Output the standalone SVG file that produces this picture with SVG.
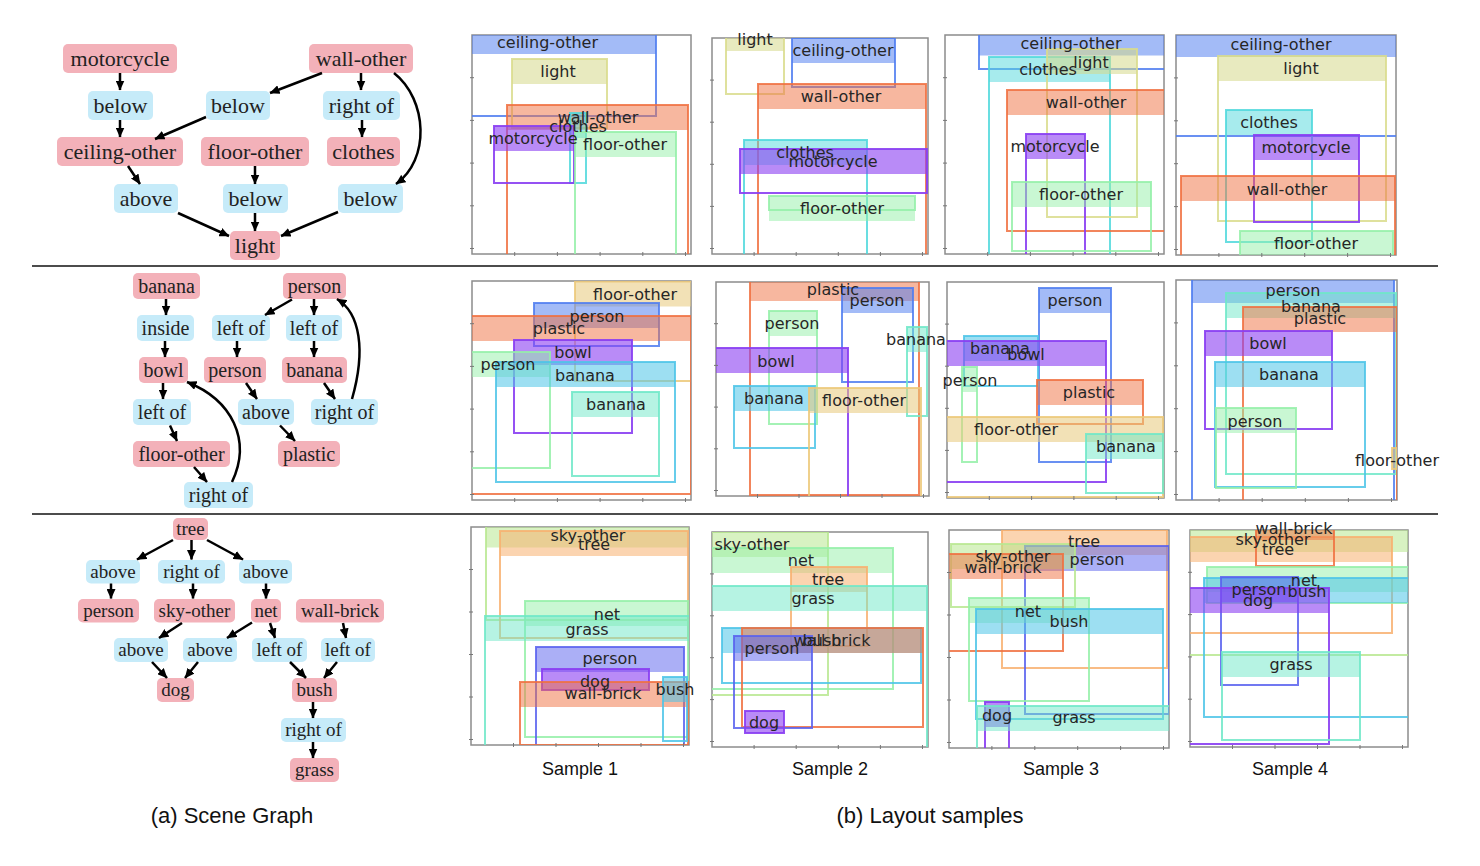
<svg xmlns="http://www.w3.org/2000/svg" width="1480" height="866" viewBox="0 0 1480 866">
<style>
.np{fill:#f3b1b9}
.nb{fill:#c6ebf9}
.nt{font-family:"Liberation Serif","Times New Roman",serif;fill:#222;text-anchor:middle}
.r1{font-size:22px}.r2{font-size:20px}.r3{font-size:19px}
.e{fill:none;stroke:#000;stroke-width:2.5;marker-end:url(#ah)}
.fr{fill:#fff;stroke:#8c8c8c;stroke-width:1.5}
.tk{fill:none;stroke:#777;stroke-width:1}
.lb{font-family:"DejaVu Sans","Liberation Sans",sans-serif;font-size:16px;fill:#262626;text-anchor:middle}
.cap{font-family:"Liberation Sans",Arial,sans-serif;fill:#111;text-anchor:middle}
.sep{stroke:#111;stroke-width:1.5}
.oB{fill:none;stroke:#4f7df0;stroke-width:2;opacity:.85}.bB{fill:#4f7df0;opacity:.52}
.oI{fill:none;stroke:#5860ee;stroke-width:2;opacity:.85}.bI{fill:#5860ee;opacity:.5}
.oP{fill:none;stroke:#8a3ef2;stroke-width:2;opacity:.9}.bP{fill:#8a3ef2;opacity:.6}
.oO{fill:none;stroke:#f07040;stroke-width:2;opacity:.85}.bO{fill:#f07040;opacity:.5}
.oT{fill:none;stroke:#f8b070;stroke-width:2;opacity:.85}.bT{fill:#f8b070;opacity:.55}
.oF{fill:none;stroke:#ecc878;stroke-width:2;opacity:.85}.bF{fill:#e8c87a;opacity:.55}
.oL{fill:none;stroke:#d9dc8c;stroke-width:2;opacity:.85}.bL{fill:#d6d98a;opacity:.55}
.oC{fill:none;stroke:#4fd8dc;stroke-width:2;opacity:.85}.bC{fill:#4fd8dc;opacity:.5}
.oS{fill:none;stroke:#4cc4e8;stroke-width:2;opacity:.85}.bS{fill:#4cc4e8;opacity:.55}
.oA{fill:none;stroke:#6ee8c8;stroke-width:2;opacity:.85}.bA{fill:#6ee8c8;opacity:.5}
.oG{fill:none;stroke:#94f0a8;stroke-width:2;opacity:.85}.bG{fill:#94f0a8;opacity:.5}
.oY{fill:none;stroke:#b8e890;stroke-width:2;opacity:.85}.bY{fill:#b8e890;opacity:.55}
</style>
<defs>
<marker id="ah" markerUnits="userSpaceOnUse" markerWidth="10" markerHeight="9" viewBox="0 0 10 9" refX="9.5" refY="4.5" orient="auto"><path d="M0,0L10,4.5L0,9z" fill="#000"/></marker>
<clipPath id="c11"><rect x="472" y="35" width="219" height="219"/></clipPath>
<clipPath id="c12"><rect x="712" y="38" width="216" height="216"/></clipPath>
<clipPath id="c13"><rect x="945" y="35" width="219" height="219"/></clipPath>
<clipPath id="c14"><rect x="1176" y="35" width="220" height="220"/></clipPath>
<clipPath id="c21"><rect x="472" y="281" width="219" height="219"/></clipPath>
<clipPath id="c22"><rect x="716" y="282" width="213" height="214"/></clipPath>
<clipPath id="c23"><rect x="947" y="282" width="217" height="216"/></clipPath>
<clipPath id="c24"><rect x="1176" y="280" width="221" height="220"/></clipPath>
<clipPath id="c31"><rect x="471" y="527" width="218" height="218"/></clipPath>
<clipPath id="c32"><rect x="712" y="532" width="216" height="215"/></clipPath>
<clipPath id="c33"><rect x="949" y="530" width="220" height="218"/></clipPath>
<clipPath id="c34"><rect x="1190" y="530" width="218" height="217"/></clipPath>
</defs>
<rect width="1480" height="866" fill="#fff"/>
<line class="sep" x1="32" y1="266" x2="1438" y2="266"/>
<line class="sep" x1="32" y1="514" x2="1438" y2="514"/>

<!-- Scene graph 1 -->
<g id="sg1">
<g id="sg1-motorcycle"><rect class="np" x="63" y="44" width="114" height="29" rx="5"/><text class="nt r1" x="120" y="65.5">motorcycle</text></g>
<g id="sg1-wall-other"><rect class="np" x="309" y="44" width="104" height="29" rx="5"/><text class="nt r1" x="361" y="65.5">wall-other</text></g>
<g id="sg1-below1"><rect class="nb" x="88" y="91" width="65" height="29" rx="5"/><text class="nt r1" x="120.5" y="112.5">below</text></g>
<g id="sg1-below2"><rect class="nb" x="206" y="91" width="64" height="29" rx="5"/><text class="nt r1" x="238" y="112.5">below</text></g>
<g id="sg1-rightof"><rect class="nb" x="323" y="91" width="77" height="29" rx="5"/><text class="nt r1" x="361.5" y="112.5">right of</text></g>
<g id="sg1-ceiling-other"><rect class="np" x="57" y="137" width="126" height="29" rx="5"/><text class="nt r1" x="120" y="158.5">ceiling-other</text></g>
<g id="sg1-floor-other"><rect class="np" x="201" y="137" width="108" height="29" rx="5"/><text class="nt r1" x="255" y="158.5">floor-other</text></g>
<g id="sg1-clothes"><rect class="np" x="327" y="137" width="73" height="29" rx="5"/><text class="nt r1" x="363.5" y="158.5">clothes</text></g>
<g id="sg1-above"><rect class="nb" x="114" y="184" width="64" height="29" rx="5"/><text class="nt r1" x="146" y="205.5">above</text></g>
<g id="sg1-below3"><rect class="nb" x="223" y="184" width="65" height="29" rx="5"/><text class="nt r1" x="255.5" y="205.5">below</text></g>
<g id="sg1-below4"><rect class="nb" x="338" y="184" width="65" height="29" rx="5"/><text class="nt r1" x="370.5" y="205.5">below</text></g>
<g id="sg1-light"><rect class="np" x="230" y="231" width="50" height="29" rx="5"/><text class="nt r1" x="255" y="252.5">light</text></g>
</g>
<!-- Scene graph 2 -->
<g id="sg2">
<g id="sg2-banana"><rect class="np" x="133" y="273" width="67" height="26" rx="5"/><text class="nt r2" x="166.5" y="292.5">banana</text></g>
<g id="sg2-person"><rect class="np" x="283" y="273" width="63" height="26" rx="5"/><text class="nt r2" x="314.5" y="292.5">person</text></g>
<g id="sg2-inside"><rect class="nb" x="137" y="315" width="57" height="26" rx="5"/><text class="nt r2" x="165.5" y="334.5">inside</text></g>
<g id="sg2-leftof1"><rect class="nb" x="212" y="315" width="58" height="26" rx="5"/><text class="nt r2" x="241" y="334.5">left of</text></g>
<g id="sg2-leftof2"><rect class="nb" x="286" y="315" width="56" height="26" rx="5"/><text class="nt r2" x="314" y="334.5">left of</text></g>
<g id="sg2-bowl"><rect class="np" x="139" y="357" width="49" height="26" rx="5"/><text class="nt r2" x="163.5" y="376.5">bowl</text></g>
<g id="sg2-person2"><rect class="np" x="204" y="357" width="62" height="26" rx="5"/><text class="nt r2" x="235" y="376.5">person</text></g>
<g id="sg2-banana2"><rect class="np" x="282" y="357" width="65" height="26" rx="5"/><text class="nt r2" x="314.5" y="376.5">banana</text></g>
<g id="sg2-leftof3"><rect class="nb" x="133" y="399" width="58" height="26" rx="5"/><text class="nt r2" x="162" y="418.5">left of</text></g>
<g id="sg2-above"><rect class="nb" x="238" y="399" width="56" height="26" rx="5"/><text class="nt r2" x="266" y="418.5">above</text></g>
<g id="sg2-rightof1"><rect class="nb" x="311" y="399" width="67" height="26" rx="5"/><text class="nt r2" x="344.5" y="418.5">right of</text></g>
<g id="sg2-floor-other"><rect class="np" x="133" y="441" width="97" height="26" rx="5"/><text class="nt r2" x="181.5" y="460.5">floor-other</text></g>
<g id="sg2-plastic"><rect class="np" x="278" y="441" width="62" height="26" rx="5"/><text class="nt r2" x="309" y="460.5">plastic</text></g>
<g id="sg2-rightof2"><rect class="nb" x="184" y="482" width="69" height="26" rx="5"/><text class="nt r2" x="218.5" y="501.5">right of</text></g>
</g>
<!-- Scene graph 3 -->
<g id="sg3">
<g id="sg3-tree"><rect class="np" x="173" y="518" width="35" height="22" rx="5"/><text class="nt r3" x="190.5" y="535">tree</text></g>
<g id="sg3-above1"><rect class="nb" x="86" y="560" width="54" height="23.5" rx="5"/><text class="nt r3" x="113" y="577.7">above</text></g>
<g id="sg3-rightof1"><rect class="nb" x="158" y="560" width="67" height="23.5" rx="5"/><text class="nt r3" x="191.5" y="577.7">right of</text></g>
<g id="sg3-above2"><rect class="nb" x="239" y="560" width="53" height="23.5" rx="5"/><text class="nt r3" x="265.5" y="577.7">above</text></g>
<g id="sg3-person"><rect class="np" x="78" y="599" width="61" height="23.5" rx="5"/><text class="nt r3" x="108.5" y="616.7">person</text></g>
<g id="sg3-sky-other"><rect class="np" x="154" y="599" width="81" height="23.5" rx="5"/><text class="nt r3" x="194.5" y="616.7">sky-other</text></g>
<g id="sg3-net"><rect class="np" x="251" y="599" width="30" height="23.5" rx="5"/><text class="nt r3" x="266" y="616.7">net</text></g>
<g id="sg3-wall-brick"><rect class="np" x="296" y="599" width="88" height="23.5" rx="5"/><text class="nt r3" x="340" y="616.7">wall-brick</text></g>
<g id="sg3-above3"><rect class="nb" x="114" y="638" width="54" height="24" rx="5"/><text class="nt r3" x="141" y="656">above</text></g>
<g id="sg3-above4"><rect class="nb" x="183" y="638" width="54" height="24" rx="5"/><text class="nt r3" x="210" y="656">above</text></g>
<g id="sg3-leftof1"><rect class="nb" x="252" y="638" width="55" height="24" rx="5"/><text class="nt r3" x="279.5" y="656">left of</text></g>
<g id="sg3-leftof2"><rect class="nb" x="321" y="638" width="54" height="24" rx="5"/><text class="nt r3" x="348" y="656">left of</text></g>
<g id="sg3-dog"><rect class="np" x="157" y="678" width="37" height="24" rx="5"/><text class="nt r3" x="175.5" y="696">dog</text></g>
<g id="sg3-bush"><rect class="np" x="292" y="678" width="45" height="24" rx="5"/><text class="nt r3" x="314.5" y="696">bush</text></g>
<g id="sg3-rightof2"><rect class="nb" x="281" y="718" width="65" height="24" rx="5"/><text class="nt r3" x="313.5" y="736">right of</text></g>
<g id="sg3-grass"><rect class="np" x="290" y="758" width="49" height="24" rx="5"/><text class="nt r3" x="314.5" y="776">grass</text></g>
</g>

<g id="connectors">
<path class="e" d="M120,73V90"/>
<path class="e" d="M120,120V137"/>
<path class="e" d="M322,73L270,93"/>
<path class="e" d="M361,73V90"/>
<path class="e" d="M394,73C428,100 430,160 396,184"/>
<path class="e" d="M206,117L155,139"/>
<path class="e" d="M362,120V137"/>
<path class="e" d="M128,166L140,184"/>
<path class="e" d="M255,166V184"/>
<path class="e" d="M178,213L229,236"/>
<path class="e" d="M255,213V231"/>
<path class="e" d="M338,212L281,236"/>

<path class="e" d="M166,299V315"/>
<path class="e" d="M165,341V357"/>
<path class="e" d="M163,383V399"/>
<path class="e" d="M170,425.5L177,441"/>
<path class="e" d="M194,467L207,482"/>
<path class="e" d="M232,482C252,440 232,400 187,382"/>
<path class="e" d="M292,299.5L265,315"/>
<path class="e" d="M314,299V315"/>
<path class="e" d="M237,341V357"/>
<path class="e" d="M314,341V357"/>
<path class="e" d="M246,383L257,399"/>
<path class="e" d="M324,383L335,399"/>
<path class="e" d="M280,425.5L295,441"/>
<path class="e" d="M352,399C366,350 360,313 337,299"/>

<path class="e" d="M173,540L137,559.5"/>
<path class="e" d="M191.5,540V559.5"/>
<path class="e" d="M207,540L243,559.5"/>
<path class="e" d="M111,583.5V598.5"/>
<path class="e" d="M193,583.5V598.5"/>
<path class="e" d="M266,583.5V598.5"/>
<path class="e" d="M182,623L159,638"/>
<path class="e" d="M252,622.5L227,638"/>
<path class="e" d="M270,623L275,638"/>
<path class="e" d="M343,623L346,638"/>
<path class="e" d="M152,662L167,678"/>
<path class="e" d="M198,662L185,678"/>
<path class="e" d="M290,662L306,678"/>
<path class="e" d="M337,662L324,678"/>
<path class="e" d="M313,702V718"/>
<path class="e" d="M313,742V758"/>
</g>

<!-- Row 1 layouts -->
<g id="r1p1">
<rect class="fr" x="472" y="35" width="219" height="219"/>
<g clip-path="url(#c11)">
<rect class="bB" x="462" y="29" width="194" height="25"/><rect class="oB" x="462" y="29" width="194" height="87"/>
<rect class="bL" x="512" y="59" width="95" height="25"/><rect class="oL" x="512" y="59" width="95" height="69"/>
<rect class="bO" x="507" y="105" width="181" height="25"/><rect class="oO" x="507" y="105" width="181" height="157"/>
<rect class="bC" x="570" y="113" width="16" height="25"/><rect class="oC" x="570" y="113" width="16" height="70"/>
<rect class="bP" x="494" y="126" width="80" height="25"/><rect class="oP" x="494" y="126" width="80" height="57"/>
<rect class="bG" x="575" y="132" width="101" height="25"/><rect class="oG" x="575" y="132" width="101" height="130"/>
</g>
<path class="tk" d="M470,77.7h4m-4,42.7h4m-4,42.7h4m-4,42.7h4m-4,42.7h4M514.7,252v4m42.7,-4v4m42.7,-4v4m42.7,-4v4m42.7,-4v4"/>
<text class="lb" x="547.5" y="47.5">ceiling-other</text>
<text class="lb" x="558" y="77">light</text>
<text class="lb" x="598" y="123">wall-other</text>
<text class="lb" x="578" y="132">clothes</text>
<text class="lb" x="533" y="144">motorcycle</text>
<text class="lb" x="625" y="150">floor-other</text>
</g>
<g id="r1p2">
<rect class="fr" x="712" y="38" width="216" height="216"/>
<g clip-path="url(#c12)">
<rect class="bL" x="726" y="26" width="58" height="25"/><rect class="oL" x="726" y="26" width="58" height="68"/>
<rect class="bB" x="792" y="38" width="103" height="25"/><rect class="oB" x="792" y="38" width="103" height="49"/>
<rect class="bO" x="758" y="84" width="168" height="25"/><rect class="oO" x="758" y="84" width="168" height="178"/>
<rect class="bC" x="744" y="140" width="123" height="25"/><rect class="oC" x="744" y="140" width="123" height="122"/>
<rect class="bP" x="740" y="149" width="187" height="25"/><rect class="oP" x="740" y="149" width="187" height="44"/>
<rect class="bG" x="769" y="196" width="146" height="25"/><rect class="oG" x="769" y="196" width="146" height="14"/>
</g>
<path class="tk" d="M710,80.1h4m-4,42.1h4m-4,42.1h4m-4,42.1h4m-4,42.1h4M754.1,252v4m42.1,-4v4m42.1,-4v4m42.1,-4v4m42.1,-4v4"/>
<text class="lb" x="755" y="44.5">light</text>
<text class="lb" x="843" y="56">ceiling-other</text>
<text class="lb" x="841" y="102">wall-other</text>
<text class="lb" x="805" y="158">clothes</text>
<text class="lb" x="833" y="167">motorcycle</text>
<text class="lb" x="842" y="214">floor-other</text>
</g>
<g id="r1p3">
<rect class="fr" x="945" y="35" width="219" height="219"/>
<g clip-path="url(#c13)">
<rect class="bB" x="979" y="30.5" width="193" height="25"/><rect class="oB" x="979" y="30.5" width="193" height="38.5"/>
<rect class="bC" x="989" y="57" width="121" height="25"/><rect class="oC" x="989" y="57" width="121" height="205"/>
<rect class="bL" x="1047" y="49" width="90" height="25"/><rect class="oL" x="1047" y="49" width="90" height="168"/>
<rect class="bO" x="1007" y="90" width="165" height="25"/><rect class="oO" x="1007" y="90" width="165" height="141"/>
<rect class="bP" x="1026" y="134" width="59" height="25"/><rect class="oP" x="1026" y="134" width="59" height="128"/>
<rect class="bG" x="1012" y="182" width="139" height="25"/><rect class="oG" x="1012" y="182" width="139" height="69"/>
</g>
<path class="tk" d="M943,77.7h4m-4,42.7h4m-4,42.7h4m-4,42.7h4m-4,42.7h4M987.7,252v4m42.7,-4v4m42.7,-4v4m42.7,-4v4m42.7,-4v4"/>
<text class="lb" x="1071" y="49">ceiling-other</text>
<text class="lb" x="1048" y="75">clothes</text>
<text class="lb" x="1091" y="67.5">light</text>
<text class="lb" x="1086" y="108">wall-other</text>
<text class="lb" x="1055" y="152">motorcycle</text>
<text class="lb" x="1081" y="200">floor-other</text>
</g>
<g id="r1p4">
<rect class="fr" x="1176" y="35" width="220" height="220"/>
<g clip-path="url(#c14)">
<rect class="bB" x="1168" y="32" width="236" height="25"/><rect class="oB" x="1168" y="32" width="236" height="104"/>
<rect class="bL" x="1218" y="56" width="168" height="25"/><rect class="oL" x="1218" y="56" width="168" height="165"/>
<rect class="bC" x="1226" y="110" width="86" height="25"/><rect class="oC" x="1226" y="110" width="86" height="132"/>
<rect class="bP" x="1254" y="135" width="105" height="25"/><rect class="oP" x="1254" y="135" width="105" height="87"/>
<rect class="bO" x="1181" y="176" width="214" height="25"/><rect class="oO" x="1181" y="176" width="214" height="87"/>
<rect class="bG" x="1240" y="231" width="153" height="25"/><rect class="oG" x="1240" y="231" width="153" height="32"/>
</g>
<path class="tk" d="M1174,77.9h4m-4,42.9h4m-4,42.9h4m-4,42.9h4m-4,42.9h4M1218.9,253v4m42.9,-4v4m42.9,-4v4m42.9,-4v4m42.9,-4v4"/>
<text class="lb" x="1281" y="50">ceiling-other</text>
<text class="lb" x="1301" y="74">light</text>
<text class="lb" x="1269" y="128">clothes</text>
<text class="lb" x="1306" y="152.5">motorcycle</text>
<text class="lb" x="1287" y="195">wall-other</text>
<text class="lb" x="1316" y="249">floor-other</text>
</g>

<!-- Row 2 layouts -->
<g id="r2p1">
<rect class="fr" x="472" y="281" width="219" height="219"/>
<g clip-path="url(#c21)">
<rect class="bF" x="575" y="281.5" width="125" height="25"/><rect class="oF" x="575" y="281.5" width="125" height="99.5"/>
<rect class="bB" x="534" y="303" width="125" height="25"/><rect class="oB" x="534" y="303" width="125" height="43"/>
<rect class="bO" x="464" y="316" width="227" height="25"/><rect class="oO" x="464" y="316" width="227" height="178"/>
<rect class="bP" x="514" y="340" width="118" height="25"/><rect class="oP" x="514" y="340" width="118" height="93"/>
<rect class="bG" x="464" y="352" width="86" height="25"/><rect class="oG" x="464" y="352" width="86" height="116"/>
<rect class="bS" x="496" y="362" width="179" height="25"/><rect class="oS" x="496" y="362" width="179" height="120"/>
<rect class="bA" x="572" y="392" width="87" height="25"/><rect class="oA" x="572" y="392" width="87" height="84"/>
</g>
<path class="tk" d="M470,323.7h4m-4,42.7h4m-4,42.7h4m-4,42.7h4m-4,42.7h4M514.7,498v4m42.7,-4v4m42.7,-4v4m42.7,-4v4m42.7,-4v4"/>
<text class="lb" x="635" y="300">floor-other</text>
<text class="lb" x="597" y="322">person</text>
<text class="lb" x="559" y="334">plastic</text>
<text class="lb" x="573" y="358">bowl</text>
<text class="lb" x="508" y="370">person</text>
<text class="lb" x="585" y="380.5">banana</text>
<text class="lb" x="616" y="410">banana</text>
</g>
<g id="r2p2">
<rect class="fr" x="716" y="282" width="213" height="214"/>
<g clip-path="url(#c22)">
<rect class="bO" x="750" y="276" width="169" height="25"/><rect class="oO" x="750" y="276" width="169" height="219"/>
<rect class="bB" x="842" y="288" width="71" height="25"/><rect class="oB" x="842" y="288" width="71" height="94"/>
<rect class="bG" x="769" y="311" width="48" height="25"/><rect class="oG" x="769" y="311" width="48" height="113"/>
<rect class="bA" x="907" y="327" width="20" height="25"/><rect class="oA" x="907" y="327" width="20" height="89"/>
<rect class="bP" x="708" y="348" width="140" height="25"/><rect class="oP" x="708" y="348" width="140" height="157"/>
<rect class="bS" x="734" y="386" width="81" height="25"/><rect class="oS" x="734" y="386" width="81" height="62"/>
<rect class="bF" x="809" y="388" width="112" height="25"/><rect class="oF" x="809" y="388" width="112" height="117"/>
</g>
<path class="tk" d="M714,323.7h4m-4,41.7h4m-4,41.7h4m-4,41.7h4m-4,41.7h4M757.5,494v4m41.5,-4v4m41.5,-4v4m41.5,-4v4m41.5,-4v4"/>
<text class="lb" x="833" y="294.5">plastic</text>
<text class="lb" x="877" y="306">person</text>
<text class="lb" x="792" y="329">person</text>
<text class="lb" x="916" y="345">banana</text>
<text class="lb" x="776" y="367">bowl</text>
<text class="lb" x="774" y="403.5">banana</text>
<text class="lb" x="864" y="405.5">floor-other</text>
</g>
<g id="r2p3">
<rect class="fr" x="947" y="282" width="217" height="216"/>
<g clip-path="url(#c23)">
<rect class="bB" x="1039" y="288" width="72" height="25"/><rect class="oB" x="1039" y="288" width="72" height="174"/>
<rect class="bS" x="964" y="336" width="74" height="25"/><rect class="oS" x="964" y="336" width="74" height="50"/>
<rect class="bP" x="940" y="341" width="166" height="25"/><rect class="oP" x="940" y="341" width="166" height="141"/>
<rect class="bG" x="962" y="367" width="15" height="25"/><rect class="oG" x="962" y="367" width="15" height="95"/>
<rect class="bO" x="1037" y="380" width="106" height="25"/><rect class="oO" x="1037" y="380" width="106" height="44"/>
<rect class="bF" x="940" y="417" width="223" height="25"/><rect class="oF" x="940" y="417" width="223" height="80"/>
<rect class="bA" x="1086" y="434" width="77" height="25"/><rect class="oA" x="1086" y="434" width="77" height="59"/>
</g>
<path class="tk" d="M945,324.1h4m-4,42.1h4m-4,42.1h4m-4,42.1h4m-4,42.1h4M989.3,496v4m42.3,-4v4m42.3,-4v4m42.3,-4v4m42.3,-4v4"/>
<text class="lb" x="1075" y="306">person</text>
<text class="lb" x="1000" y="354">banana</text>
<text class="lb" x="1026" y="360">bowl</text>
<text class="lb" x="970" y="386">person</text>
<text class="lb" x="1089" y="398">plastic</text>
<text class="lb" x="1016" y="434.5">floor-other</text>
<text class="lb" x="1126" y="452">banana</text>
</g>
<g id="r2p4">
<rect class="fr" x="1176" y="280" width="221" height="220"/>
<g clip-path="url(#c24)">
<rect class="bB" x="1192" y="278" width="202" height="25"/><rect class="oB" x="1192" y="278" width="202" height="230"/>
<rect class="bA" x="1226" y="293" width="170" height="25"/><rect class="oA" x="1226" y="293" width="170" height="181"/>
<rect class="bO" x="1243" y="307" width="154" height="25"/><rect class="oO" x="1243" y="307" width="154" height="201"/>
<rect class="bP" x="1205" y="331" width="127" height="25"/><rect class="oP" x="1205" y="331" width="127" height="98"/>
<rect class="bS" x="1215" y="362" width="150" height="25"/><rect class="oS" x="1215" y="362" width="150" height="125"/>
<rect class="bG" x="1216" y="408" width="80" height="25"/><rect class="oG" x="1216" y="408" width="80" height="80"/>
<rect class="bF" x="1392" y="448" width="5" height="21"/><rect class="oF" x="1392" y="448" width="5" height="21"/>
</g>
<path class="tk" d="M1174,322.9h4m-4,42.9h4m-4,42.9h4m-4,42.9h4m-4,42.9h4M1219.1,498v4m43.1,-4v4m43.1,-4v4m43.1,-4v4m43.1,-4v4"/>
<text class="lb" x="1293" y="296">person</text>
<text class="lb" x="1311" y="311.5">banana</text>
<text class="lb" x="1320" y="324">plastic</text>
<text class="lb" x="1268" y="349">bowl</text>
<text class="lb" x="1289" y="380">banana</text>
<text class="lb" x="1255" y="427">person</text>
<text class="lb" x="1397" y="465.5">floor-other</text>
</g>

<!-- Row 3 layouts -->
<g id="r3p1">
<rect class="fr" x="471" y="527" width="218" height="218"/>
<g clip-path="url(#c31)">
<rect class="bY" x="486" y="522.5" width="209" height="25"/><rect class="oY" x="486" y="522.5" width="209" height="97.5"/>
<rect class="bT" x="500" y="531" width="188" height="25"/><rect class="oT" x="500" y="531" width="188" height="107"/>
<rect class="bG" x="525" y="601" width="163" height="25"/><rect class="oG" x="525" y="601" width="163" height="136"/>
<rect class="bA" x="485" y="616" width="210" height="25"/><rect class="oA" x="485" y="616" width="210" height="139"/>
<rect class="bI" x="536" y="647" width="148" height="25"/><rect class="oI" x="536" y="647" width="148" height="108"/>
<rect class="bP" x="542" y="669" width="107" height="21"/><rect class="oP" x="542" y="669" width="107" height="21"/>
<rect class="bO" x="520" y="682" width="168" height="25"/><rect class="oO" x="520" y="682" width="168" height="63"/>
<rect class="bS" x="663" y="677" width="24" height="25"/><rect class="oS" x="663" y="677" width="24" height="64"/>
</g>
<path class="tk" d="M469,569.5h4m-4,42.5h4m-4,42.5h4m-4,42.5h4m-4,42.5h4M513.5,743v4m42.5,-4v4m42.5,-4v4m42.5,-4v4m42.5,-4v4"/>
<text class="lb" x="588" y="541">sky-other</text>
<text class="lb" x="594" y="550">tree</text>
<text class="lb" x="607" y="619.5">net</text>
<text class="lb" x="587" y="634.5">grass</text>
<text class="lb" x="610" y="664">person</text>
<text class="lb" x="595" y="687">dog</text>
<text class="lb" x="603" y="699">wall-brick</text>
<text class="lb" x="675" y="694.5">bush</text>
</g>
<g id="r3p2">
<rect class="fr" x="712" y="532" width="216" height="215"/>
<g clip-path="url(#c32)">
<rect class="bY" x="705" y="532" width="123" height="25"/><rect class="oY" x="705" y="532" width="123" height="163"/>
<rect class="bG" x="705" y="548" width="188" height="25"/><rect class="oG" x="705" y="548" width="188" height="141"/>
<rect class="bT" x="791" y="567" width="76" height="25"/><rect class="oT" x="791" y="567" width="76" height="79"/>
<rect class="bA" x="705" y="586" width="222" height="25"/><rect class="oA" x="705" y="586" width="222" height="169"/>
<rect class="bS" x="722" y="628" width="199" height="25"/><rect class="oS" x="722" y="628" width="199" height="55"/>
<rect class="bO" x="742" y="628" width="181" height="25"/><rect class="oO" x="742" y="628" width="181" height="99"/>
<rect class="bI" x="734" y="636" width="78" height="25"/><rect class="oI" x="734" y="636" width="78" height="92"/>
<rect class="bP" x="745" y="711" width="39" height="22"/><rect class="oP" x="745" y="711" width="39" height="22"/>
</g>
<path class="tk" d="M710,573.9h4m-4,41.9h4m-4,41.9h4m-4,41.9h4m-4,41.9h4M754.1,745v4m42.1,-4v4m42.1,-4v4m42.1,-4v4m42.1,-4v4"/>
<text class="lb" x="752" y="549.5">sky-other</text>
<text class="lb" x="801" y="566">net</text>
<text class="lb" x="828" y="584.5">tree</text>
<text class="lb" x="813" y="604">grass</text>
<text class="lb" x="822" y="646">bush</text>
<text class="lb" x="832" y="646">wall-brick</text>
<text class="lb" x="772" y="654">person</text>
<text class="lb" x="764" y="728">dog</text>
</g>
<g id="r3p3">
<rect class="fr" x="949" y="530" width="220" height="218"/>
<g clip-path="url(#c33)">
<rect class="bT" x="1002" y="530" width="165" height="25"/><rect class="oT" x="1002" y="530" width="165" height="138"/>
<rect class="bI" x="1025" y="546" width="144" height="25"/><rect class="oI" x="1025" y="546" width="144" height="168"/>
<rect class="bY" x="951" y="544" width="124" height="25"/><rect class="oY" x="951" y="544" width="124" height="63"/>
<rect class="bO" x="942" y="554" width="121" height="25"/><rect class="oO" x="942" y="554" width="121" height="97"/>
<rect class="bG" x="969" y="598" width="120" height="25"/><rect class="oG" x="969" y="598" width="120" height="103"/>
<rect class="bS" x="976" y="609" width="187" height="25"/><rect class="oS" x="976" y="609" width="187" height="110"/>
<rect class="bP" x="985" y="702" width="24" height="25"/><rect class="oP" x="985" y="702" width="24" height="53"/>
<rect class="bA" x="977" y="706" width="199" height="25"/><rect class="oA" x="977" y="706" width="199" height="49"/>
</g>
<path class="tk" d="M947,572.5h4m-4,42.5h4m-4,42.5h4m-4,42.5h4m-4,42.5h4M991.9,746v4m42.9,-4v4m42.9,-4v4m42.9,-4v4m42.9,-4v4"/>
<text class="lb" x="1084" y="547">tree</text>
<text class="lb" x="1097" y="564.5">person</text>
<text class="lb" x="1013" y="562">sky-other</text>
<text class="lb" x="1003" y="573">wall-brick</text>
<text class="lb" x="1028" y="617">net</text>
<text class="lb" x="1069" y="627">bush</text>
<text class="lb" x="997" y="720.5">dog</text>
<text class="lb" x="1074" y="723">grass</text>
</g>
<g id="r3p4">
<rect class="fr" x="1190" y="530" width="218" height="217"/>
<g clip-path="url(#c34)">
<rect class="bY" x="1182" y="527" width="234" height="25"/><rect class="oY" x="1182" y="527" width="234" height="128"/>
<rect class="bT" x="1182" y="537" width="210" height="25"/><rect class="oT" x="1182" y="537" width="210" height="96"/>
<rect class="bO" x="1256" y="515" width="78" height="25"/><rect class="oO" x="1256" y="515" width="78" height="51"/>
<rect class="bG" x="1207" y="567" width="209" height="25"/><rect class="oG" x="1207" y="567" width="209" height="36"/>
<rect class="bS" x="1204" y="578" width="212" height="25"/><rect class="oS" x="1204" y="578" width="212" height="139"/>
<rect class="bI" x="1221" y="577" width="77" height="25"/><rect class="oI" x="1221" y="577" width="77" height="108"/>
<rect class="bP" x="1182" y="588" width="147" height="25"/><rect class="oP" x="1182" y="588" width="147" height="156"/>
<rect class="bA" x="1222" y="652" width="138" height="25"/><rect class="oA" x="1222" y="652" width="138" height="88"/>
</g>
<path class="tk" d="M1188,572.3h4m-4,42.3h4m-4,42.3h4m-4,42.3h4m-4,42.3h4M1232.5,745v4m42.5,-4v4m42.5,-4v4m42.5,-4v4m42.5,-4v4"/>
<text class="lb" x="1273" y="545">sky-other</text>
<text class="lb" x="1278" y="554.5">tree</text>
<text class="lb" x="1294" y="534">wall-brick</text>
<text class="lb" x="1304" y="586">net</text>
<text class="lb" x="1307" y="597">bush</text>
<text class="lb" x="1259" y="595">person</text>
<text class="lb" x="1258" y="606">dog</text>
<text class="lb" x="1291" y="669.5">grass</text>
</g>

<g id="captions">
<text class="cap" x="580" y="775" font-size="18">Sample 1</text>
<text class="cap" x="830" y="775" font-size="18">Sample 2</text>
<text class="cap" x="1061" y="775" font-size="18">Sample 3</text>
<text class="cap" x="1290" y="775" font-size="18">Sample 4</text>
<text class="cap" x="232" y="823" font-size="22">(a) Scene Graph</text>
<text class="cap" x="930" y="823" font-size="22">(b) Layout samples</text>
</g>
</svg>
